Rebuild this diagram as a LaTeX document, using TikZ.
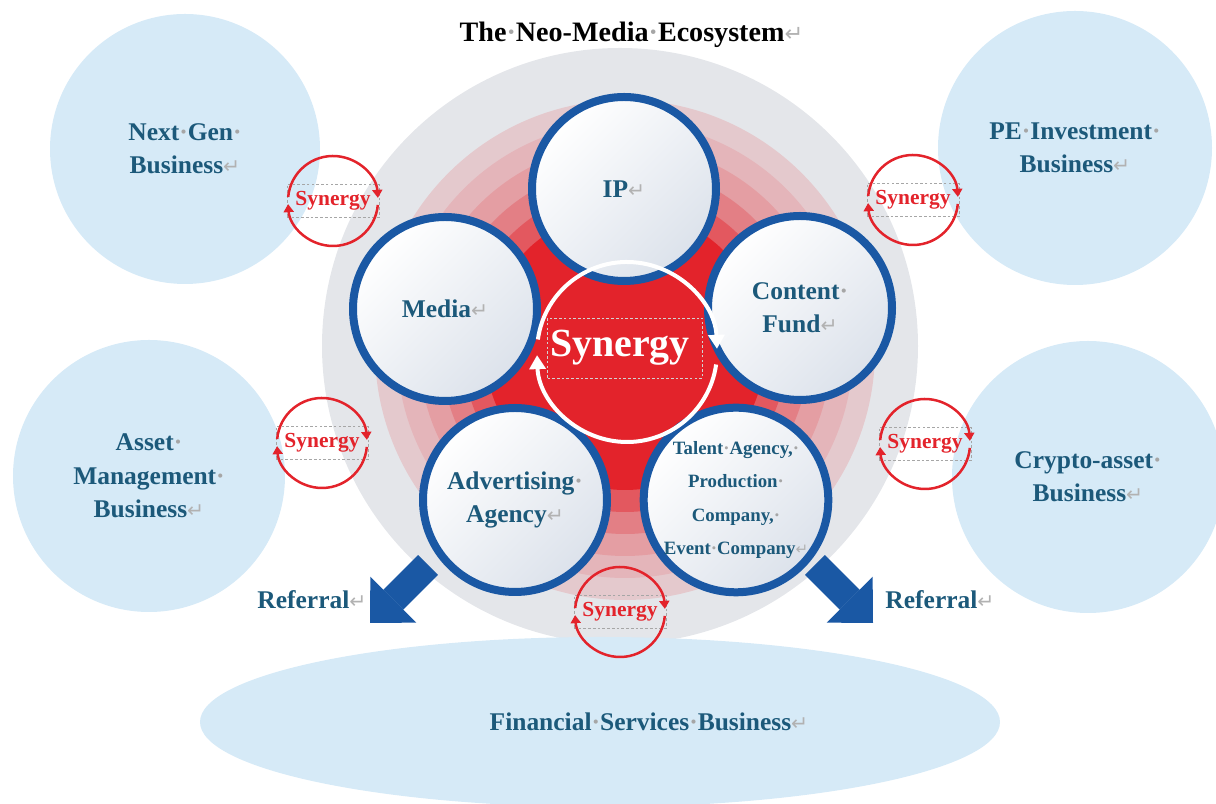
\documentclass[tikz,border=0pt]{standalone}
\usepackage{fontspec}
\setmainfont{Liberation Serif}
\newfontfamily\markfont[Scale=0.8]{DejaVu Sans}
\usepackage{xcolor}
\usetikzlibrary{arrows.meta,positioning,shapes.geometric}

\definecolor{neoblue}{RGB}{26,88,164}
\definecolor{neotext}{RGB}{28,89,122}
\definecolor{neored}{RGB}{227,35,43}
\definecolor{neosky}{RGB}{214,234,247}
\definecolor{neogray}{RGB}{228,230,234}
\definecolor{neoshade}{RGB}{220,226,235}

\newcommand{\dotsp}{{\color{gray!70}\textperiodcentered}}
\newcommand{\retmark}{{\markfont\mdseries\color{gray!60}\char"21B5}}

\begin{document}
\begin{tikzpicture}[every node/.style={
    align=center,
    inner sep=0pt,
    text=neotext,
    font=\bfseries\fontsize{14.5}{19}\selectfont
},
    eco circle/.style={circle, draw=neoblue, line width=0.16cm, minimum size=3.68cm,
        top color=white, bottom color=neoshade, shading angle=45},
    biz circle/.style={circle, fill=neosky, minimum size=#1},
    ring/.style={circle, minimum size=#1},
    synergy box/.style={draw=gray!70, line width=0.4pt, dash pattern=on 1.5pt off 1.2pt,
        minimum width=1.84cm, minimum height=0.66cm, text=neored,
        font=\bfseries\fontsize{12.2}{14}\selectfont},
    synergy arc/.style={neored, line width=0.05cm, -{Triangle[length=0.16cm, width=0.2cm]}},
    referral arrow/.style={neoblue, line width=0.56cm,
        -{Triangle[length=0.66cm, width=1.3cm, line width=0pt]}}
]
    \useasboundingbox (0, 0) rectangle (24.32, 16.08);

    % background disc and the red rings
    \node (eco_back) [ring=11.92cm, fill=neogray, shift={(12.40, 9.16)}] {};
    \node (ring_five) [ring=10cm, fill=neored!15!neogray, shift={(12.50, 9.08)}] {};
    \node (ring_four) [ring=9.12cm, fill=neored!25!neogray, shift={(12.50, 9.08)}] {};
    \node (ring_three) [ring=8.24cm, fill=neored!37!neogray, shift={(12.50, 9.08)}] {};
    \node (ring_two) [ring=7.36cm, fill=neored!53!neogray, shift={(12.50, 9.08)}] {};
    \node (ring_one) [ring=6.48cm, fill=neored!73!neogray, shift={(12.50, 9.08)}] {};
    \node (ring_core) [ring=5.6cm, fill=neored, shift={(12.50, 9.08)}] {};
    \node (synergy_core) [ring=3.44cm, fill=neored, shift={(12.54, 9.04)}] {};

    % the five businesses of the ecosystem
    \node (ip) [eco circle, shift={(12.48, 12.30)}]
    {
        IP\retmark
    };
    \node (media) [eco circle, shift={(8.90, 9.90)}]
    {
        Media\retmark
    };
    \node (content_fund) [eco circle, shift={(16.00, 9.92)}]
    {
        Content\dotsp\\Fund\retmark
    };
    \node (advertising_agency) [eco circle, shift={(10.30, 6.08)}]
    {
        Advertising\dotsp\\Agency\retmark
    };
    \node (talent_agency) [eco circle, font=\bfseries\fontsize{10.7}{18.8}\selectfont, shift={(14.72, 6.08)}]
    {
        Talent\dotsp Agency,\dotsp\\Production\dotsp\\Company,\dotsp\\Event\dotsp Company\retmark
    };

    \draw[white, line width=0.08cm, -{Triangle[length=0.28cm, width=0.32cm]}]
        (synergy_core.center) ++(172:1.8) arc[start angle=172, end angle=2, radius=1.8];
    \draw[white, line width=0.08cm, -{Triangle[length=0.28cm, width=0.32cm]}]
        (synergy_core.center) ++(-8:1.8) arc[start angle=-8, end angle=-178, radius=1.8];
    \node (synergy_label) [draw=gray!35, line width=0.4pt, dash pattern=on 1.5pt off 1.2pt,
        minimum width=3.1cm, minimum height=1.2cm, text=white,
        font=\bfseries\fontsize{22.7}{26}\selectfont, shift={(12.50, 9.12)}]
    {
        Synergy
    };

    % outer businesses
    \node (next_gen) [biz circle=5.40cm, shift={(3.70, 13.10)}]
    {
        Next\dotsp Gen\dotsp\\Business\retmark
    };
    \node (pe_investment) [biz circle=5.48cm, shift={(21.50, 13.12)}]
    {
        PE\dotsp Investment\dotsp\\Business\retmark
    };
    \node (asset_management) [biz circle=5.44cm, shift={(2.98, 6.56)}]
    {
        Asset\dotsp\\Management\dotsp\\Business\retmark
    };
    \node (crypto_asset) [biz circle=5.44cm, shift={(21.76, 6.54)}]
    {
        Crypto-asset\dotsp\\Business\retmark
    };
    \node (financial_services) [ellipse, fill=neosky, minimum width=16cm, minimum height=3.4cm, shift={(12.00, 1.64)}] {};
    \node (financial_label) [shift={(12.98, 1.64)}]
    {
        Financial\dotsp Services\dotsp Business\retmark
    };

    % small synergy loops
    \node (synergy_next_gen) [synergy box, shift={(6.66, 12.06)}] {Synergy};
    \draw[synergy arc] (synergy_next_gen.center) ++(175:0.9) arc[start angle=175, end angle=4, radius=0.9];
    \draw[synergy arc] (synergy_next_gen.center) ++(-5:0.9) arc[start angle=-5, end angle=-176, radius=0.9];
    \node (synergy_pe) [synergy box, shift={(18.26, 12.08)}] {Synergy};
    \draw[synergy arc] (synergy_pe.center) ++(175:0.9) arc[start angle=175, end angle=4, radius=0.9];
    \draw[synergy arc] (synergy_pe.center) ++(-5:0.9) arc[start angle=-5, end angle=-176, radius=0.9];
    \node (synergy_asset) [synergy box, shift={(6.44, 7.22)}] {Synergy};
    \draw[synergy arc] (synergy_asset.center) ++(175:0.9) arc[start angle=175, end angle=4, radius=0.9];
    \draw[synergy arc] (synergy_asset.center) ++(-5:0.9) arc[start angle=-5, end angle=-176, radius=0.9];
    \node (synergy_crypto) [synergy box, shift={(18.50, 7.20)}] {Synergy};
    \draw[synergy arc] (synergy_crypto.center) ++(175:0.9) arc[start angle=175, end angle=4, radius=0.9];
    \draw[synergy arc] (synergy_crypto.center) ++(-5:0.9) arc[start angle=-5, end angle=-176, radius=0.9];
    \node (synergy_financial) [synergy box, shift={(12.40, 3.84)}] {Synergy};
    \draw[synergy arc] (synergy_financial.center) ++(175:0.9) arc[start angle=175, end angle=4, radius=0.9];
    \draw[synergy arc] (synergy_financial.center) ++(-5:0.9) arc[start angle=-5, end angle=-176, radius=0.9];

    % referral arrows
    \coordinate (referral_left_tail) at (8.56, 4.78);
    \coordinate (referral_left_tip) at (7.40, 3.62);
    \coordinate (referral_right_tail) at (16.30, 4.78);
    \coordinate (referral_right_tip) at (17.46, 3.62);
    \draw[referral arrow] (referral_left_tail) -- (referral_left_tip);
    \draw[referral arrow] (referral_right_tail) -- (referral_right_tip);
    \node (referral_left) [shift={(6.24, 4.08)}] {Referral\retmark};
    \node (referral_right) [shift={(18.80, 4.08)}] {Referral\retmark};

    \node (title) [text=black, font=\bfseries\fontsize{16}{19}\selectfont, shift={(12.63, 15.38)}]
    {
        The\dotsp Neo-Media\dotsp Ecosystem\retmark
    };
\end{tikzpicture}
\end{document}
